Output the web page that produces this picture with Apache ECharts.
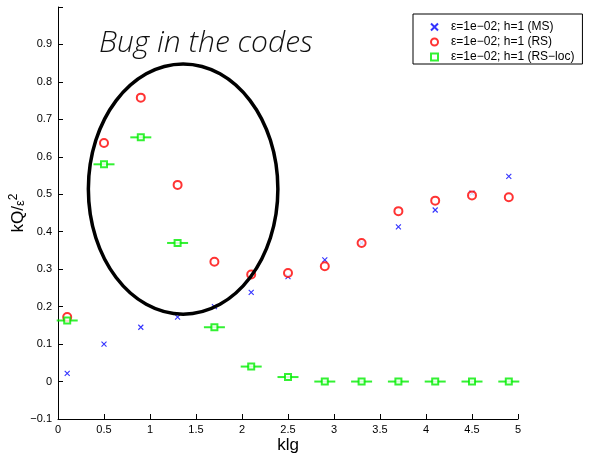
<!DOCTYPE html>
<html>
<head>
<meta charset="utf-8">
<script src="https://cdn.jsdelivr.net/npm/echarts@6/dist/echarts.min.js"></script>
<style>html,body{margin:0;padding:0;background:#fff;}#c{width:590px;height:454px;}</style>
</head>
<body>
<div id="c"></div>
<script>
const klg = [0.1, 0.5, 0.9, 1.3, 1.7, 2.1, 2.5, 2.9, 3.3, 3.7, 4.1, 4.5, 4.9];
const msValues = [0.022, 0.100, 0.145, 0.172, 0.200, 0.238, 0.280, 0.325, 0.370, 0.413, 0.458, 0.503, 0.548];
const rsValues = [0.172, 0.637, 0.758, 0.525, 0.320, 0.286, 0.290, 0.308, 0.370, 0.455, 0.483, 0.497, 0.492];
const rslocValues = [0.163, 0.580, 0.652, 0.370, 0.145, 0.040, 0.012, 0.000, 0.000, 0.000, 0.000, 0.000, 0.000];
const seriesNames = ['ε=1e−02; h=1 (MS)', 'ε=1e−02; h=1 (RS)', 'ε=1e−02; h=1 (RS−loc)'];
const annotationText = 'Bug in the codes';
// ellipse annotation in data units: [centerX, centerY, radiusX, radiusY]
const ellipseAnnotation = [[1.36, 0.514, 1.03, 0.334]];

const pts = vals => klg.map((x, i) => [x, vals[i]]);
const chart = echarts.init(document.getElementById('c'));
const font = '"Liberation Sans", Arial, Helvetica, sans-serif';

chart.setOption({
  animation: false,
  backgroundColor: '#fff',
  textStyle: { fontFamily: font, color: '#000' },
  grid: { left: 58, right: 72, top: 7, bottom: 35, containLabel: false, outerBoundsMode: 'none' },
  xAxis: {
    type: 'value', min: 0, max: 5, interval: 0.5,
    name: 'klg', nameLocation: 'middle', nameGap: 18, nameMoveOverlap: false,
    nameTextStyle: { fontSize: 17, color: '#000', fontFamily: font },
    axisLine: { show: true, onZero: false, lineStyle: { color: '#000', width: 1 } },
    axisTick: { show: true, inside: true, length: 5, lineStyle: { color: '#000' } },
    axisLabel: { fontSize: 11, color: '#000', margin: 5, fontFamily: font },
    splitLine: { show: false }
  },
  yAxis: {
    type: 'value', min: -0.1, max: 1.0, interval: 0.1,
    name: 'kQ/{e|ε}{s|2}', nameLocation: 'middle', nameGap: 30, nameRotate: 90, nameMoveOverlap: false,
    nameTextStyle: { fontSize: 17, color: '#000', fontFamily: font,
      rich: { e: { fontSize: 13, fontFamily: font, padding: [4, 0, 0, 0] }, s: { fontSize: 12, fontFamily: font, verticalAlign: 'top', padding: [0, 0, 8, 0] } } },
    axisLine: { show: true, onZero: false, lineStyle: { color: '#000', width: 1 } },
    axisTick: { show: true, inside: true, length: 5, lineStyle: { color: '#000' } },
    axisLabel: {
      fontSize: 11, color: '#000', margin: 6, fontFamily: font,
      formatter: v => {
        if (Math.abs(v - 1) < 1e-9) return '';
        const s = String(parseFloat(v.toFixed(1)));
        return s.replace('-', '−');
      }
    },
    splitLine: { show: false }
  },
  legend: {
    data: seriesNames,
    orient: 'vertical',
    left: 413, top: 14,
    padding: [7, 8, 1, 17],
    itemWidth: 7, itemHeight: 7, itemGap: 3,
    textStyle: { fontSize: 12, color: '#000', fontFamily: font, padding: [0, 0, 0, 8] },
    borderColor: '#000', borderWidth: 1, borderRadius: 0,
    backgroundColor: '#fff',
    selectedMode: false
  },
  graphic: [{
    type: 'text', left: 99, top: 28,
    style: { text: annotationText, fill: '#111', font: 'italic 300 30px "Open Sans", Roboto, "Liberation Sans", sans-serif' }
  }],
  series: [
    {
      name: 'ellipse', type: 'custom', data: ellipseAnnotation, silent: true, z: 5,
      renderItem: (params, api) => {
        const c = api.coord([api.value(0), api.value(1)]);
        const s = api.size([api.value(2), api.value(3)]);
        return { type: 'ellipse', shape: { cx: c[0], cy: c[1], rx: s[0], ry: s[1] },
          style: { fill: 'none', stroke: '#000', lineWidth: 3.5 } };
      }
    },
    {
      name: seriesNames[0], type: 'scatter', data: pts(msValues),
      symbol: 'path://M0,0L10,10M10,0L0,10', symbolSize: 5,
      itemStyle: { color: 'rgba(0,0,0,0)', borderColor: '#0000ff', borderWidth: 1.1 }, z: 3
    },
    {
      name: seriesNames[1], type: 'scatter', data: pts(rsValues),
      symbol: 'emptyCircle', symbolSize: 8,
      itemStyle: { color: '#ff0000', borderColor: '#ff0000', borderWidth: 1 }, z: 3
    },
    {
      name: 'rsloc-bar', type: 'scatter', data: pts(rslocValues),
      symbol: 'rect', symbolSize: [21, 2],
      itemStyle: { color: '#00ee00' }, z: 2
    },
    {
      name: seriesNames[2], type: 'scatter', data: pts(rslocValues),
      symbol: 'emptyRect', symbolSize: 6,
      itemStyle: { color: '#00ee00', borderColor: '#00ee00', borderWidth: 1 }, z: 3
    }
  ]
});
</script>
</body>
</html>
